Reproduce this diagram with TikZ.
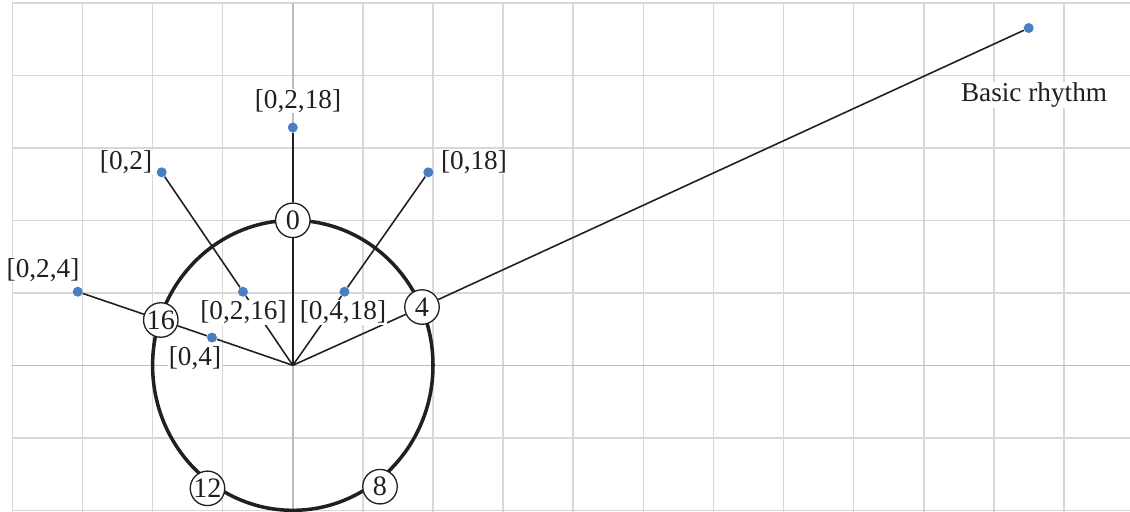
\documentclass[tikz,border=0pt]{standalone}
\usepackage{fontspec}
\setmainfont{Liberation Serif}
\usepackage{tikz}
\usetikzlibrary{positioning}
\definecolor{gridgray}{RGB}{216,216,216}
\definecolor{axisgray}{RGB}{188,188,188}
\definecolor{dotblue}{RGB}{72,126,194}
\definecolor{ink}{RGB}{35,31,32}
\tikzset{
    gridline/.style = {draw=gridgray, line width=0.9pt},
    axisline/.style = {draw=axisgray, line width=0.9pt},
    beat/.style = {circle, draw=ink, fill=white, line width=0.75pt, minimum size=0.69cm, inner sep=0pt, text=ink, font=\fontsize{16}{18}\selectfont},
    rdot/.style = {circle, fill=dotblue, minimum size=0.2cm, inner sep=0pt},
    lbl/.style = {fill=white, inner sep=0.5pt, text=ink, font=\fontsize{15.5}{18}\selectfont},
    link/.style = {draw=ink, line width=0.9pt},
    ring/.style = {draw=ink, line width=2pt}
}

\begin{document}
\begin{tikzpicture}[x=1.402cm, y=1.45cm]
\useasboundingbox (-4.177,-2.023) rectangle (11.943,5.039);

\foreach \i in {-4,...,11} \draw[gridline] (\i,-2.023) -- (\i,5);
\foreach \j in {-2,...,5} \draw[gridline] (-4,\j) -- (11.943,\j);
\draw[axisline] (0,-2.023) -- (0,5);
\draw[axisline] (-4,0) -- (11.943,0);

\draw[ring] (0,0) circle [radius=2];

\coordinate (c) at (0,0);
\node[beat] (n0) at (0,2) {0};
\node[beat] (n4) at (1.843,0.804) {4};
\node[beat] (n8) at (1.244,-1.674) {8};
\node[beat] (n12) at (-1.217,-1.697) {12};
\node[beat] (n16) at (-1.883,0.625) {16};

\node[rdot] (d0218) at (0,3.28) {};
\node[rdot] (d02) at (-1.87,2.662) {};
\node[rdot] (d018) at (1.933,2.662) {};
\node[rdot] (d024) at (-3.068,1.015) {};
\node[rdot] (d0216) at (-0.711,1.015) {};
\node[rdot] (d0418) at (0.737,1.015) {};
\node[rdot] (d04) at (-1.153,0.383) {};
\node[rdot] (dbasic) at (10.498,4.652) {};

\draw[link] (c) -- (n0) -- (d0218);
\draw[link] (c) -- (d0216) -- (d02);
\draw[link] (c) -- (d0418) -- (d018);
\draw[link] (c) -- (d04) -- (n16) -- (d024);
\draw[link] (c) -- (n4) -- (dbasic);

\node[lbl] (l0218) at (0.074,3.646) {[0,2,18]};
\node[lbl] (l02) at (-2.379,2.804) {[0,2]};
\node[lbl] (l018) at (2.585,2.804) {[0,18]};
\node[lbl] (l024) at (-3.563,1.314) {[0,2,4]};
\node[lbl] (l0216) at (-0.703,0.73) {[0,2,16]};
\node[lbl] (l0418) at (0.716,0.73) {[0,4,18]};
\node[lbl] (l04) at (-1.395,0.101) {[0,4]};
\node[lbl] (lbasic) at (10.574,3.728) {Basic rhythm};
\end{tikzpicture}
\end{document}
